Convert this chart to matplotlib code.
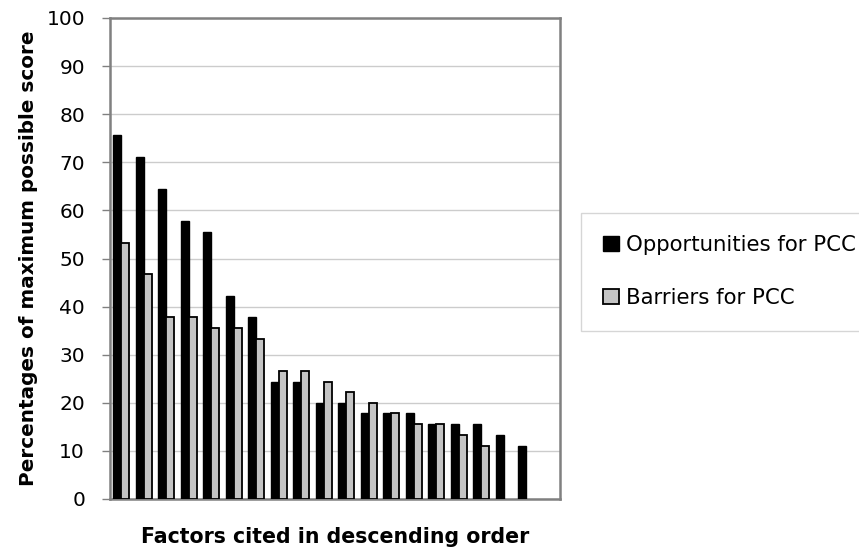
import numpy as np
import matplotlib.pyplot as plt

#Values (percent of maximum possible score)
opportunities = [75.6, 71.1, 64.4, 57.8, 55.6, 42.2, 37.8, 24.4, 24.4, 20.0,
                 20.0, 17.8, 17.8, 17.8, 15.6, 15.6, 15.6, 13.3, 11.1]
barriers = [53.3, 46.7, 37.8, 37.8, 35.6, 35.6, 33.3, 26.7, 26.7, 24.4,
            22.2, 20.0, 17.8, 15.6, 15.6, 13.3, 11.1]
n_slots = 20  # the category axis has one empty slot at the end
y_ticks = list(range(0, 101, 10))

#Wide sans font to match the stretched lettering of the original
plt.rcParams['font.family'] = ['DejaVu Sans']

fig = plt.figure(figsize=(8.59, 5.53), dpi=100)
ax = fig.add_axes([110 / 859, 1 - 499 / 553, 450 / 859, 481 / 553])

w = 0.36
x_opp = np.arange(len(opportunities))
x_bar = np.arange(len(barriers))
ax.bar(x_opp - w / 2, opportunities, width=w, color='black', edgecolor='black',
       linewidth=1.0, label='Opportunities for PCC', zorder=3)
ax.bar(x_bar + w / 2, barriers, width=w, color='#c4c4c4', edgecolor='black',
       linewidth=1.3, label='Barriers for PCC', zorder=3)

ax.set_xlim(-0.5, n_slots - 0.5)
ax.set_ylim(0, 100)
ax.set_yticks(y_ticks)
ax.set_xticks([])
ax.yaxis.grid(True, color='#cccccc', linewidth=1.0, zorder=0)
ax.tick_params(axis='y', labelsize=14.5, length=6, width=1, color='#808080', pad=12)

for s in ax.spines.values():
    s.set_color('#808080')
    s.set_linewidth(1.8)

ax.set_ylabel('Percentages of maximum possible score', fontsize=14.4,
              fontweight='bold', labelpad=6)
ax.set_xlabel('Factors cited in descending order', fontsize=14.8,
              fontweight='bold', labelpad=20)

fig.legend(loc='upper left', bbox_to_anchor=(581 / 859, 1 - 213 / 553),
           fontsize=15.3, frameon=True, fancybox=False, edgecolor='#cccccc',
           handlelength=0.72, handleheight=0.72, handletextpad=0.35,
           labelspacing=1.55, borderpad=1.05, borderaxespad=0)

fig.savefig('out.png', dpi=100)
